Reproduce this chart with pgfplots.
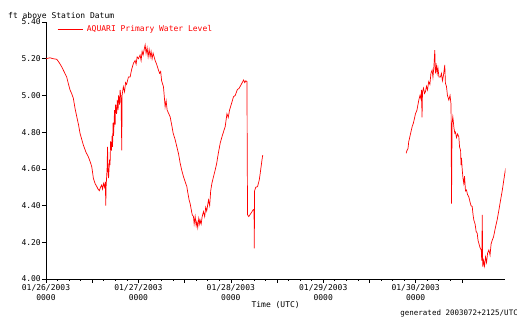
\documentclass[border=0pt]{standalone}
\usepackage{pgfplots}
\pgfplotsset{compat=1.18}
\usepackage{fontspec}
\setmainfont{DejaVu Sans Mono}
\begin{document}
\begin{tikzpicture}
\path[use as bounding box] (0pt,0pt) rectangle (517pt,320pt);
\begin{axis}[
  at={(46pt,41pt)}, anchor=south west,
  scale only axis, width=459.3pt, height=257pt,
  xmin=0, xmax=4.97, ymin=4.0, ymax=5.4,
  axis lines=left, axis line style={-, black, line width=0.7pt},
  tick align=outside, tick style={black, line width=0.6pt},
  major tick length=4pt, minor tick length=2pt,
  font=\fontsize{8}{10.5}\selectfont,
  /pgf/number format/assume math mode=true,
  xtick={0,0.5,1,1.5,2,2.5,3,3.5,4,4.5},
  xticklabels={{01/26/2003\\0000},{},{01/27/2003\\0000},{},{01/28/2003\\0000},{},{01/29/2003\\0000},{},{01/30/2003\\0000},{}},
  xticklabel style={align=center, inner sep=1pt},
  minor x tick num=3,
  ytick={4.0,4.2,4.4,4.6,4.8,5.0,5.2,5.4},
  yticklabel style={/pgf/number format/fixed, /pgf/number format/fixed zerofill, /pgf/number format/precision=2, inner sep=1pt},
  xlabel={Time (UTC)},
  xlabel style={at={(axis description cs:0.5,-0.101)}, anchor=center, inner sep=0pt},
  ylabel={ft above Station Datum},
  ylabel style={at={(axis description cs:-0.0827,1.027)}, rotate=-90, anchor=west, inner sep=0pt},
  legend image code/.code={\draw[red, line width=0.7pt] (0pt,0pt) -- (25pt,0pt);},
  legend style={at={(axis description cs:0.024,0.9728)}, anchor=west, draw=none, fill=none,
    inner xsep=0pt, inner ysep=0pt, nodes={inner sep=0pt, text=red}, column sep=4pt,
    font=\fontsize{8}{10}\selectfont},
]
\addplot[red, line width=0.7pt] coordinates {
(0.000,5.200) (0.043,5.205) (0.076,5.200) (0.116,5.197) (0.141,5.180) (0.170,5.156)
(0.195,5.130) (0.224,5.100) (0.244,5.060) (0.260,5.030) (0.278,5.010) (0.296,4.984)
(0.314,4.930) (0.333,4.884) (0.352,4.840) (0.368,4.794) (0.387,4.760) (0.404,4.730)
(0.433,4.690) (0.458,4.666) (0.477,4.640) (0.495,4.612) (0.504,4.580) (0.513,4.548)
(0.531,4.520) (0.550,4.503) (0.563,4.490) (0.577,4.481) (0.590,4.500) (0.603,4.512)
(0.612,4.490) (0.623,4.520) (0.634,4.500) (0.642,4.530) (0.647,4.400) (0.650,4.500)
(0.661,4.600) (0.666,4.720) (0.672,4.580) (0.677,4.550) (0.688,4.650) (0.693,4.620)
(0.699,4.750) (0.709,4.700) (0.715,4.780) (0.720,4.720) (0.726,4.850) (0.731,4.780)
(0.742,4.920) (0.748,4.840) (0.753,4.950) (0.764,4.900) (0.772,4.975) (0.780,4.920)
(0.785,5.000) (0.796,4.950) (0.802,5.030) (0.812,4.980) (0.820,4.700) (0.823,5.000)
(0.837,5.047) (0.850,5.020) (0.861,5.070) (0.872,5.060) (0.892,5.100) (0.910,5.100)
(0.926,5.140) (0.946,5.175) (0.964,5.190) (0.975,5.170) (0.986,5.210) (1.000,5.200)
(1.018,5.220) (1.029,5.190) (1.040,5.240) (1.051,5.220) (1.062,5.250) (1.073,5.275)
(1.083,5.230) (1.094,5.260) (1.105,5.210) (1.116,5.250) (1.127,5.210) (1.137,5.240)
(1.148,5.200) (1.159,5.230) (1.181,5.190) (1.197,5.170) (1.217,5.138) (1.230,5.120)
(1.241,5.130) (1.251,5.080) (1.271,5.047) (1.279,5.000) (1.289,4.938) (1.300,4.970)
(1.311,4.920) (1.343,4.884) (1.360,4.840) (1.376,4.794) (1.397,4.760) (1.416,4.720)
(1.435,4.680) (1.452,4.630) (1.470,4.590) (1.488,4.557) (1.506,4.530) (1.524,4.503)
(1.538,4.460) (1.549,4.430) (1.560,4.410) (1.571,4.380) (1.582,4.350) (1.596,4.340)
(1.603,4.300) (1.614,4.340) (1.625,4.290) (1.633,4.312) (1.642,4.280) (1.653,4.330)
(1.663,4.300) (1.668,4.320) (1.679,4.300) (1.690,4.340) (1.704,4.367) (1.717,4.340)
(1.728,4.390) (1.739,4.370) (1.758,4.430) (1.771,4.400) (1.782,4.480) (1.795,4.521)
(1.809,4.550) (1.831,4.594) (1.847,4.630) (1.863,4.680) (1.885,4.740) (1.907,4.780)
(1.939,4.830) (1.958,4.900) (1.972,4.880) (1.986,4.920) (2.004,4.950) (2.029,4.993)
(2.048,5.000) (2.069,5.030) (2.091,5.040) (2.113,5.060) (2.138,5.084) (2.151,5.070)
(2.162,5.080) (2.175,5.075) (2.177,4.720) (2.181,4.350) (2.194,4.340) (2.218,4.358)
(2.240,4.376) (2.251,4.380) (2.254,4.167) (2.257,4.480) (2.270,4.500) (2.289,4.503)
(2.308,4.540) (2.318,4.576) (2.337,4.648) (2.345,4.675)
};
\addlegendentry{AQUARI Primary Water Level}
\addplot[red, line width=0.7pt, forget plot] coordinates {
(3.897,4.685) (3.906,4.700) (3.917,4.710) (3.925,4.748) (3.944,4.790) (3.962,4.830)
(3.976,4.850) (3.998,4.900) (4.014,4.920) (4.034,4.975) (4.047,5.000) (4.058,4.980)
(4.063,5.030) (4.069,4.880) (4.074,5.020) (4.085,5.040) (4.096,5.010) (4.106,5.020)
(4.117,5.050) (4.128,5.030) (4.141,5.075) (4.154,5.060) (4.165,5.120) (4.178,5.138)
(4.187,5.100) (4.198,5.160) (4.207,5.247) (4.214,5.120) (4.225,5.160) (4.233,5.120)
(4.241,5.150) (4.252,5.100) (4.268,5.100) (4.279,5.120) (4.290,5.080) (4.301,5.110)
(4.315,5.166) (4.322,5.066) (4.333,5.050) (4.344,5.000) (4.359,4.975) (4.372,5.000)
(4.383,4.950) (4.388,4.410) (4.394,4.850) (4.402,4.884) (4.415,4.820) (4.424,4.794)
(4.431,4.800) (4.442,4.770) (4.453,4.790) (4.467,4.775) (4.475,4.720) (4.486,4.700)
(4.491,4.620) (4.496,4.660) (4.504,4.594) (4.512,4.550) (4.521,4.520) (4.529,4.560)
(4.539,4.480) (4.550,4.485) (4.561,4.460) (4.575,4.448) (4.588,4.420) (4.599,4.400)
(4.612,4.394) (4.621,4.350) (4.630,4.320) (4.643,4.300) (4.654,4.260) (4.666,4.249)
(4.675,4.210) (4.684,4.194) (4.697,4.170) (4.710,4.158) (4.715,4.100) (4.721,4.349)
(4.724,4.120) (4.727,4.067) (4.735,4.100) (4.745,4.070) (4.756,4.120) (4.767,4.090)
(4.778,4.140) (4.792,4.158) (4.805,4.130) (4.816,4.190) (4.829,4.212) (4.843,4.230)
(4.865,4.285) (4.881,4.320) (4.901,4.376) (4.919,4.430) (4.938,4.485) (4.957,4.550)
(4.973,4.603)
};
\end{axis}
\node[anchor=east, inner sep=0pt, font=\fontsize{7.5}{9}\selectfont] at (518pt,7pt) {generated 2003072+2125/UTC};
\end{tikzpicture}
\end{document}
